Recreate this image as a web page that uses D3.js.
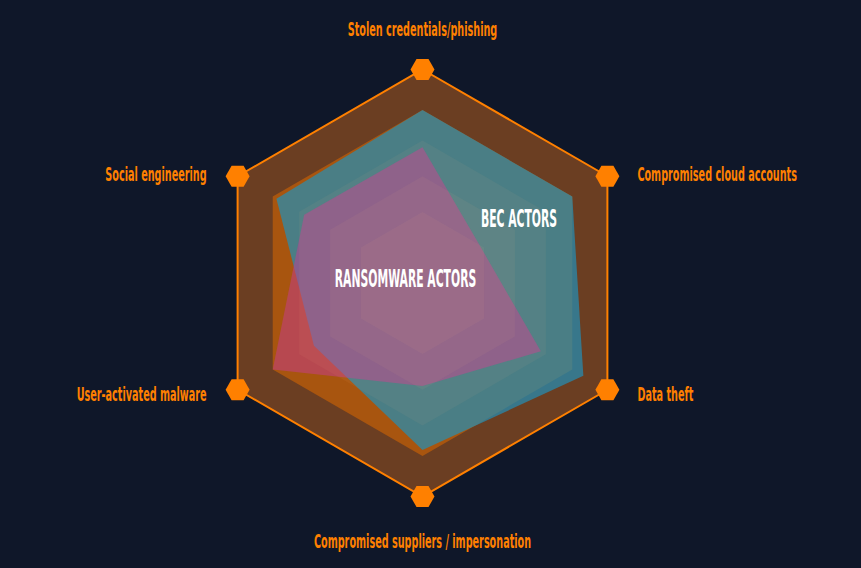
<!DOCTYPE html>
<html>
<head>
<meta charset="utf-8">
<script src="https://cdn.jsdelivr.net/npm/d3@7"></script>
<style>
  html, body { margin: 0; padding: 0; background: #0f1729; }
  svg { display: block; }
</style>
</head>
<body>
<svg id="chart"></svg>
<script>
// axis labels, clockwise from the top
const axes = [
  'Stolen credentials/phishing',
  'Compromised cloud accounts',
  'Data theft',
  'Compromised suppliers / impersonation',
  'User-activated malware',
  'Social engineering'
]
// series values (0..1 share of the scale)
const becActors = [0.81, 0.81, 0.87, 0.782, 0.587, 0.79]
const ransomwareActors = [0.636, 0.32, 0.64, 0.482, 0.81, 0.64]
// background bands and grid rings
const bandLevels = [1, 0.81]
const gridLevels = [0.333, 0.5, 0.667]

const width = 861
const height = 568
const cx = 422.5
const cy = 283
const R = 213.5
const orange = '#ff8000'
const squeeze = 0.565

const svg = d3.select('#chart').attr('width', width).attr('height', height)

svg.append('rect')
  .attr('width', width)
  .attr('height', height)
  .attr('fill', '#0f1729')

const g = svg.append('g').attr('transform', `translate(${cx},${cy})`)

const r = d3.scaleLinear().domain([0, 1]).range([0, R])
const angle = d3.scalePoint().domain(axes).range([0, 300])

const point = (axis, v) => {
  const a = (angle(axis) * Math.PI) / 180
  return [Math.sin(a) * r(v), -Math.cos(a) * r(v)]
}
const line = d3.line().curve(d3.curveLinearClosed)
const shape = values => line(axes.map((d, i) => point(d, values[i])))
const ring = v => line(axes.map(d => point(d, v)))

// brown outer band, orange inner hexagon
g.append('path').attr('d', ring(bandLevels[0])).attr('fill', '#6b3e22')
g.append('path').attr('d', ring(bandLevels[1])).attr('fill', '#a8550f')

// series
g.append('path')
  .attr('d', shape(becActors))
  .attr('fill', 'rgb(34,144,184)')
  .attr('fill-opacity', 0.7)

g.append('path')
  .attr('d', shape(ransomwareActors))
  .attr('fill', '#c63b91')
  .attr('fill-opacity', 0.5)

// faint grid hexagons
g.selectAll('.grid')
  .data(gridLevels)
  .enter()
  .append('path')
  .attr('class', 'grid')
  .attr('d', d => ring(d))
  .attr('fill', 'rgb(255,190,140)')
  .attr('fill-opacity', 0.06)

// outer outline
g.append('path')
  .attr('d', ring(bandLevels[0]))
  .attr('fill', 'none')
  .attr('stroke', orange)
  .attr('stroke-width', 2)

// hexagon markers at each axis end
const hex = d3.range(6).map(k => [12 * Math.cos((k * Math.PI) / 3), 12 * Math.sin((k * Math.PI) / 3)])
g.selectAll('.marker')
  .data(axes)
  .enter()
  .append('path')
  .attr('class', 'marker')
  .attr('d', d => {
    const [x, y] = point(d, 1)
    return line(hex.map(p => [p[0] + x, p[1] + y]))
  })
  .attr('fill', orange)

// axis labels
const labelFont = "'Liberation Sans Narrow', 'DejaVu Sans Condensed', sans-serif"
const labelPos = d => {
  const [x, y] = point(d, 1)
  const a = angle(d)
  if (a === 0) return { x, y: y - 34, anchor: 'middle' }
  if (a === 180) return { x, y: y + 51, anchor: 'middle' }
  // lower side labels sit a little lower than the upper ones
  const dy = a > 90 && a < 270 ? 11 : 5
  if (a < 180) return { x: x + 30, y: y + dy, anchor: 'start' }
  return { x: x - 31, y: y + dy, anchor: 'end' }
}

g.selectAll('.label')
  .data(axes)
  .enter()
  .append('g')
  .attr('class', 'label')
  .attr('transform', d => {
    const p = labelPos(d)
    return `translate(${p.x},${p.y}) scale(${squeeze},1)`
  })
  .append('text')
  .attr('text-anchor', d => labelPos(d).anchor)
  .style('font-family', labelFont)
  .style('font-weight', 'bold')
  .style('font-size', '19px')
  .attr('fill', orange)
  .text(d => d)

// series names
const seriesLabels = [
  { name: 'RANSOMWARE ACTORS', x: -17, y: 3.5 },
  { name: 'BEC ACTORS', x: 96.5, y: -56 }
]
g.selectAll('.series-label')
  .data(seriesLabels)
  .enter()
  .append('g')
  .attr('class', 'series-label')
  .attr('transform', d => `translate(${d.x},${d.y}) scale(0.5,1)`)
  .append('text')
  .attr('text-anchor', 'middle')
  .style('font-family', labelFont)
  .style('font-weight', 'bold')
  .style('font-size', '24px')
  .attr('fill', '#ffffff')
  .text(d => d.name)
</script>
</body>
</html>
